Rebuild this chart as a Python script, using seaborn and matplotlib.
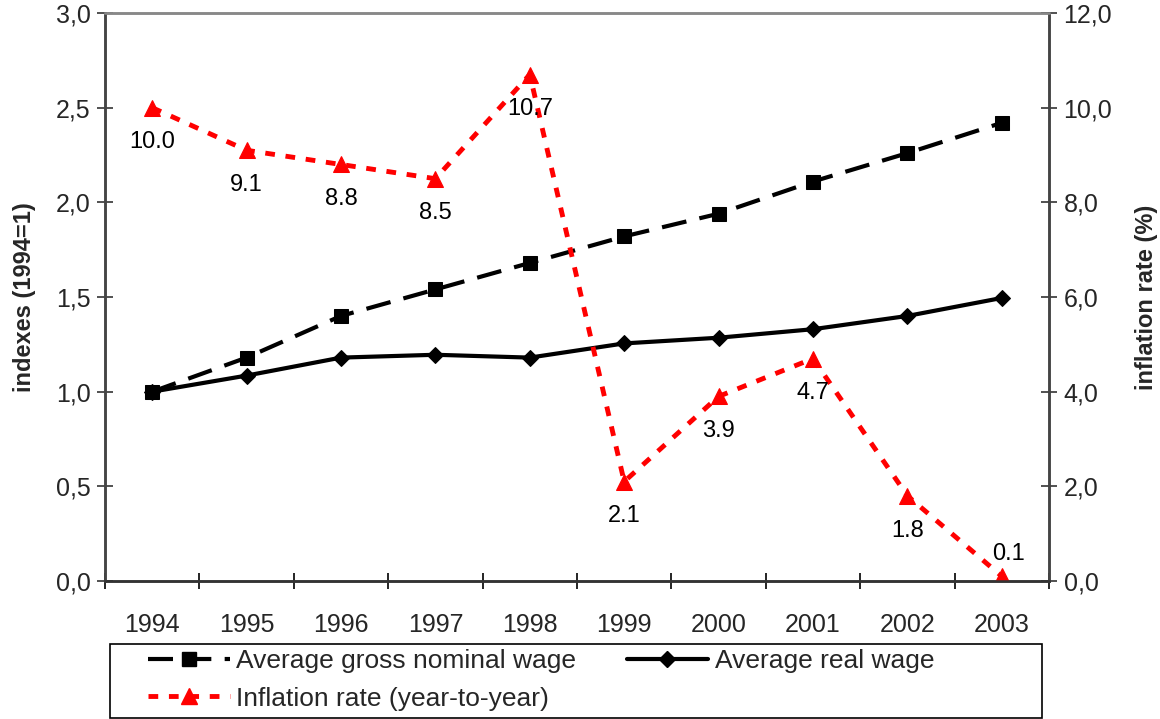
import matplotlib
matplotlib.use("Agg")
import matplotlib.pyplot as plt
import seaborn as sns
import pandas as pd
from matplotlib.lines import Line2D
from matplotlib.patches import Rectangle

years = ["1994", "1995", "1996", "1997", "1998", "1999", "2000", "2001", "2002", "2003"]
nominal_wage = [1.00, 1.18, 1.40, 1.54, 1.68, 1.82, 1.94, 2.11, 2.26, 2.42]
real_wage = [1.00, 1.085, 1.18, 1.195, 1.18, 1.255, 1.285, 1.33, 1.40, 1.495]
inflation = [10.0, 9.1, 8.8, 8.5, 10.7, 2.1, 3.9, 4.7, 1.8, 0.1]
inflation_labels = ["10.0", "9.1", "8.8", "8.5", "10.7", "2.1", "3.9", "4.7", "1.8", "0.1"]
left_ticks = [0.0, 0.5, 1.0, 1.5, 2.0, 2.5, 3.0]
left_tick_labels = ["0,0", "0,5", "1,0", "1,5", "2,0", "2,5", "3,0"]
right_ticks = [0, 2, 4, 6, 8, 10, 12]
right_tick_labels = ["0,0", "2,0", "4,0", "6,0", "8,0", "10,0", "12,0"]

df = pd.DataFrame({
    "idx": range(len(years)),
    "year": years,
    "nominal": nominal_wage,
    "real": real_wage,
    "inflation": inflation,
})

sns.set_style("white")
plt.rcParams["font.family"] = ["Liberation Sans", "DejaVu Sans"]

fig = plt.figure(figsize=(11.6, 7.19), dpi=100)
ax = fig.add_axes([0.0905, 0.1919, 0.8138, 0.790])
ax2 = ax.twinx()

sns.lineplot(data=df, x="idx", y="nominal", ax=ax, color="black", lw=3,
             marker="s", markersize=10, markeredgecolor="black", label=None)
sns.lineplot(data=df, x="idx", y="real", ax=ax, color="black", lw=3,
             marker="D", markersize=8.5, markeredgecolor="black", label=None)
ax.lines[0].set_linestyle((0, (6, 3.2)))
ax.lines[1].set_linestyle("-")

sns.lineplot(data=df, x="idx", y="inflation", ax=ax2, color="#ff0000", lw=3.5,
             marker="^", markersize=12, markeredgecolor="#ff0000", label=None)
ax2.lines[0].set_linestyle((0, (2, 2.2)))

for i, (v, t) in enumerate(zip(inflation, inflation_labels)):
    dy = 16 if v < 1 else -25
    dx = 5 if v < 1 else 0
    ax2.annotate(t, (i, v), xytext=(dx, dy), textcoords="offset points",
                 ha="center", va="center", fontsize=17, color="black")

ax.set_xlim(-0.5, len(years) - 0.5)
ax.set_ylim(0, 3.0)
ax2.set_ylim(0, 12)

ax.set_xticks([i - 0.5 for i in range(len(years) + 1)])
ax.set_xticklabels([])
ax.set_xticks(range(len(years)), minor=True)
ax.set_xticklabels(years, minor=True)
ax.tick_params(axis="x", which="major", direction="inout", length=11, width=1.2, color="black", bottom=True)
ax.tick_params(axis="x", which="minor", length=0, pad=23, labelsize=18, bottom=True)

ax.set_yticks(left_ticks)
ax.set_yticklabels(left_tick_labels)
ax.tick_params(axis="y", direction="inout", length=11, width=1.2, color="#333333",
               labelsize=18, pad=5, left=True)
ax2.set_yticks(right_ticks)
ax2.set_yticklabels(right_tick_labels)
ax2.tick_params(axis="y", direction="inout", length=11, width=1.2, color="#333333",
                labelsize=18, pad=5, right=True)

ax.set_xlabel("")
ax.set_ylabel("indexes (1994=1)", fontsize=17, fontweight="bold", labelpad=14)
ax2.set_ylabel("inflation rate (%)", fontsize=17, fontweight="bold", labelpad=16)

for a in (ax, ax2):
    a.spines["left"].set_color("#444444")
    a.spines["right"].set_color("#444444")
    a.spines["bottom"].set_color("#333333")
    a.spines["top"].set_color("#888888")
    for s in a.spines.values():
        s.set_linewidth(1.8)
    a.grid(False)

# legend frame
fig.patches.append(Rectangle((110 / 1160, 1 / 719), (1042 - 110) / 1160, (718 - 644) / 719,
                             transform=fig.transFigure, fill=False, edgecolor="black",
                             linewidth=1.2, zorder=5))

h_nom = Line2D([], [], color="black", lw=3, linestyle=(0, (6, 3.2)), marker="s", markersize=10)
h_real = Line2D([], [], color="black", lw=3, linestyle="-", marker="D", markersize=8.5)
h_inf = Line2D([], [], color="#ff0000", lw=3.5, linestyle=(0, (2, 2.2)), marker="^", markersize=12)
handles = [h_nom, h_inf, h_real]
labels = ["Average gross nominal wage", "Inflation rate (year-to-year)", "Average real wage"]
leg = fig.legend(handles, labels, loc="center left", ncol=2,
                 bbox_to_anchor=(148 / 1160, 1 - 680 / 719), fontsize=19,
                 frameon=False, handlelength=3.1,
                 handletextpad=0.25, borderaxespad=0, labelspacing=0.5,
                 borderpad=0, columnspacing=1.9)

fig.savefig("out.png", dpi=100)
